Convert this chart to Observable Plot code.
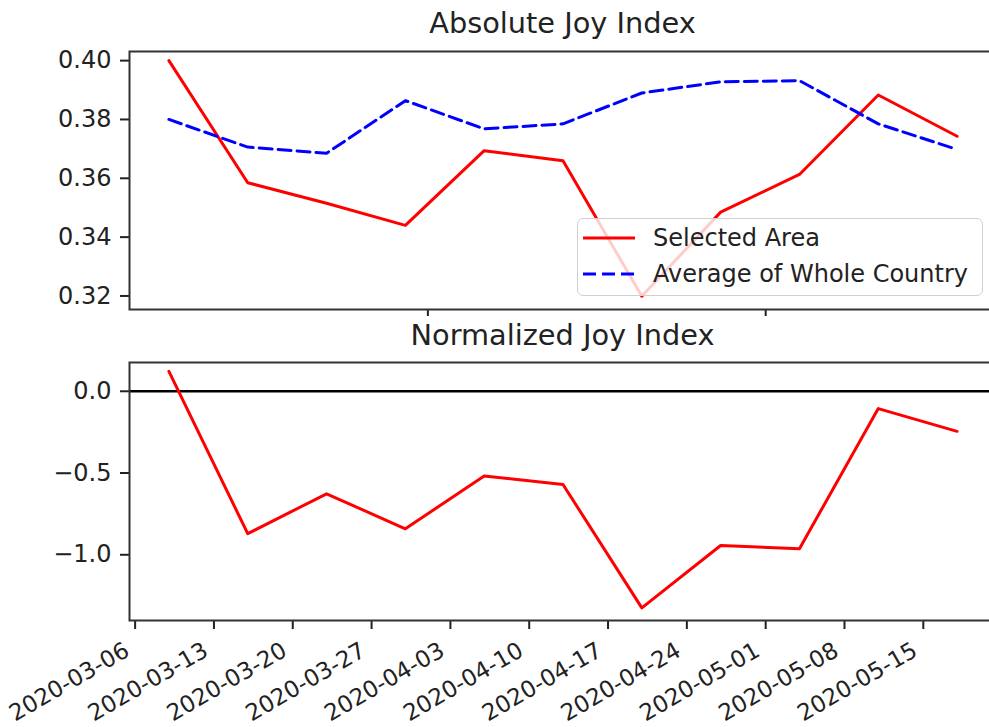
<!DOCTYPE html>
<html>
<head>
<meta charset="utf-8">
<script src="https://cdn.jsdelivr.net/npm/d3@7"></script>
<script src="https://cdn.jsdelivr.net/npm/@observablehq/plot@0.6"></script>
<style>
  html, body { margin: 0; padding: 0; background: #fff; overflow: hidden; }
  #root { position: relative; width: 989px; height: 727px; overflow: hidden; font-family: "DejaVu Sans", sans-serif; color: #222; }
  .panel { position: absolute; left: 0; width: 1000px; }
  .panel svg { max-width: none !important; }
  .title { position: absolute; left: 129px; width: 867px; text-align: center; font-size: 28.8px; line-height: 28.8px; white-space: nowrap; }
  .legend { position: absolute; left: 577px; top: 218px; width: 404px; height: 76px; border: 1.5px solid #d0d0d0; border-radius: 6px; background: rgba(255,255,255,0.8); font-size: 24px; }
  .legend .row { position: absolute; left: 0; height: 30px; display: flex; align-items: center; }
  .legend svg { margin-left: 5px; margin-right: 18px; }
</style>
</head>
<body>
<div id="root">
  <div class="title" style="top:9px">Absolute Joy Index</div>
  <div class="panel" id="top" style="top:0"></div>
  <div class="title" style="top:321px">Normalized Joy Index</div>
  <div class="panel" id="bottom" style="top:320px"></div>
  <div class="legend" id="legend"></div>
</div>
<script>
// ---- data ----
const dates = ["2020-03-09","2020-03-16","2020-03-23","2020-03-30","2020-04-06","2020-04-13","2020-04-20","2020-04-27","2020-05-04","2020-05-11","2020-05-18"];
const selectedArea = [0.4000, 0.3585, 0.3515, 0.3440, 0.3694, 0.3660, 0.3199, 0.3485, 0.3613, 0.3883, 0.3743];
const wholeCountry = [0.3800, 0.3706, 0.3685, 0.3864, 0.3768, 0.3785, 0.3890, 0.3928, 0.3932, 0.3785, 0.3698];
const normalized = [0.122, -0.871, -0.627, -0.841, -0.518, -0.570, -1.325, -0.943, -0.963, -0.106, -0.245];
const topYTicks = [0.32, 0.34, 0.36, 0.38, 0.40];
const topXTicks = ["2020-04-01", "2020-05-01"];
const bottomYTicks = [-1.0, -0.5, 0.0];
const bottomXTicks = ["2020-03-06","2020-03-13","2020-03-20","2020-03-27","2020-04-03","2020-04-10","2020-04-17","2020-04-24","2020-05-01","2020-05-08","2020-05-15"];
const seriesNames = ["Selected Area", "Average of Whole Country"];

const parse = s => new Date(s + "T00:00:00Z");
const absData = dates.map((d, i) => ({date: parse(d), sel: selectedArea[i], avg: wholeCountry[i]}));
const normData = dates.map((d, i) => ({date: parse(d), v: normalized[i]}));
const xDomain = [new Date("2020-03-05T12:00:00Z"), new Date("2020-05-21T12:00:00Z")];
const fmtMinus = (d, n) => d.toFixed(n).replace("-", "\u2212");
const style = {fontFamily: "DejaVu Sans", fontSize: "24px", color: "#222", background: "transparent", overflow: "visible", maxWidth: "none"};

const topChart = Plot.plot({
  width: 1000, height: 320,
  marginLeft: 129, marginRight: 4, marginTop: 51, marginBottom: 11,
  style,
  x: {type: "utc", domain: xDomain},
  y: {domain: [0.3154, 0.4031]},
  marks: [
    Plot.axisY(topYTicks, {tickFormat: d => fmtMinus(d, 2), tickSize: 9, tickPadding: 9, label: null, strokeWidth: 2}),
    Plot.axisX(topXTicks.map(parse), {tickFormat: () => "", tickSize: 7, label: null, strokeWidth: 2}),
    Plot.line(absData, {x: "date", y: "sel", stroke: "red", strokeWidth: 3}),
    Plot.line(absData, {x: "date", y: "avg", stroke: "blue", strokeWidth: 3, strokeDasharray: "13,6"}),
    Plot.frame({stroke: "#333", strokeWidth: 2})
  ]
});
document.getElementById("top").appendChild(topChart);

const bottomChart = Plot.plot({
  width: 1000, height: 407,
  marginLeft: 129, marginRight: 4, marginTop: 42, marginBottom: 107,
  style,
  x: {type: "utc", domain: xDomain},
  y: {domain: [-1.402, 0.176]},
  marks: [
    Plot.axisY(bottomYTicks, {tickFormat: d => fmtMinus(d, 1), tickSize: 9, tickPadding: 9, label: null, strokeWidth: 2}),
    Plot.axisX(bottomXTicks.map(parse), {tickSize: 9, tickFormat: null, text: null, label: null, strokeWidth: 2}),
    Plot.axisX(bottomXTicks.map(parse), {tickSize: 0, tickFormat: d3.utcFormat("%Y-%m-%d"), tickPadding: 15, tickRotate: -30, dx: -8, dy: 13, fontSize: 23, label: null}),
    Plot.ruleY([0], {stroke: "black", strokeWidth: 2.5}),
    Plot.line(normData, {x: "date", y: "v", stroke: "red", strokeWidth: 3}),
    Plot.frame({stroke: "#333", strokeWidth: 2})
  ]
});
document.getElementById("bottom").appendChild(bottomChart);

// legend
const legend = document.getElementById("legend");
const swatches = [
  {color: "red", dash: null},
  {color: "blue", dash: "13,6"}
];
seriesNames.forEach((name, i) => {
  const row = document.createElement("div");
  row.className = "row";
  row.style.top = (i === 0 ? 4 : 40) + "px";
  const dash = swatches[i].dash ? `stroke-dasharray="${swatches[i].dash}"` : "";
  row.innerHTML = `<svg width="52" height="10"><line x1="0" x2="52" y1="5" y2="5" stroke="${swatches[i].color}" stroke-width="3" ${dash}/></svg><span>${name}</span>`;
  legend.appendChild(row);
});
</script>
</body>
</html>
